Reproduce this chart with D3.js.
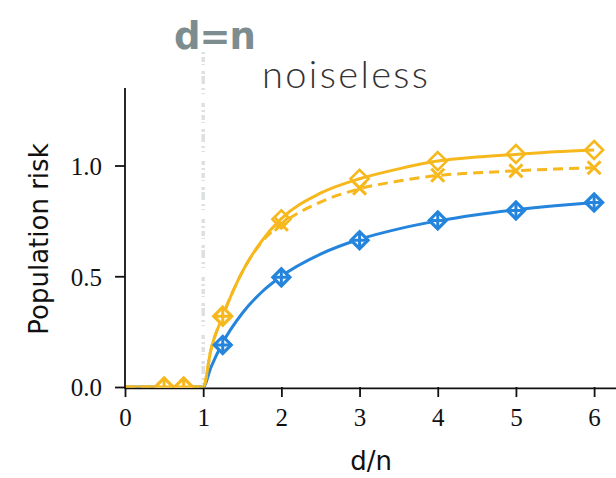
<!DOCTYPE html>
<html><head><meta charset="utf-8">
<script src="https://cdn.jsdelivr.net/npm/d3@7"></script>
<style>body{margin:0;background:#fff}svg{display:block}</style>
</head><body>
<svg id="c" width="616" height="478"></svg>
<script>
// ---- data ----
const xTicks = [0,1,2,3,4,5,6];
const yTicks = [0.0,0.5,1.0];
const yTickLabels = ["0.0","0.5","1.0"];

// curves (sampled estimates)
const curveX      = [0, 1, 1.1, 1.25, 1.5, 1.75, 2, 2.5, 3, 3.5, 4, 4.5, 5, 5.5, 6];
const blueCurve   = [0, 0, 0.09, 0.20, 0.333, 0.429, 0.50, 0.60, 0.667, 0.714, 0.75, 0.778, 0.80, 0.818, 0.833];
const yellowSolid = [0, 0, 0.17, 0.32, 0.52, 0.66, 0.76, 0.875, 0.94, 0.985, 1.02, 1.038, 1.05, 1.062, 1.07];
const yellowDash  = [0, 0, 0.17, 0.32, 0.52, 0.655, 0.735, 0.835, 0.895, 0.93, 0.955, 0.967, 0.976, 0.984, 0.99];

// markers
const blueMarkX   = [1.25, 2, 3, 4, 5, 6];
const blueMarkY   = [0.19, 0.495, 0.663, 0.752, 0.797, 0.833];
const yelPlusX    = [0.5, 0.75, 1.25];
const yelPlusY    = [0, 0, 0.32];
const yelDiamX    = [2, 3, 4, 5, 6];
const yelDiamY    = [0.757, 0.94, 1.02, 1.052, 1.07];
const yelCrossX   = [2, 3, 4, 5, 6];
const yelCrossY   = [0.735, 0.898, 0.956, 0.976, 0.99];

const YELLOW = "#f6b81c", BLUE = "#2585dc";

const svg = d3.select("#c");
const x = d3.scaleLinear().domain([0, 6.28]).range([125, 616]);
const y = d3.scaleLinear().domain([0, 1.35]).range([387, 88]);

// chalky d=n line
const chalk = svg.append("g");
chalk.append("line").attr("x1", x(1)).attr("x2", x(1)).attr("y1", 52).attr("y2", 392)
  .attr("stroke", "#a9b3b5").attr("stroke-width", 3.5).attr("opacity", 0.4)
  .attr("stroke-dasharray", "2 3 5 2 1 6 3 2 8 4 2 3 1 9 4 3");

svg.append("text").attr("x", 174).attr("y", 49).text("d=n")
  .attr("font-family", "DejaVu Sans").attr("font-weight", "bold").attr("font-size", 37)
  .attr("fill", "#7d8c8f").attr("letter-spacing", -1);

svg.append("text").attr("x", 262).attr("y", 88).text("noiseless")
  .attr("font-family", "'Lato Light', 'Lato Hairline', Lato").attr("font-weight", 200).attr("font-size", 38)
  .attr("fill", "#333").attr("textLength", 166).attr("lengthAdjust", "spacing");

// axes
const ax = svg.append("g").attr("transform", `translate(0,${y(0)})`)
  .call(d3.axisBottom(x).tickValues(xTicks).tickFormat(d3.format("d")).tickSize(10).tickPadding(6));
const ay = svg.append("g").attr("transform", `translate(${x(0)},0)`)
  .call(d3.axisLeft(y).tickValues(yTicks).tickFormat((d,i)=>yTickLabels[i]).tickSize(10).tickPadding(13));
[ax, ay].forEach(a => {
  a.select(".domain").attr("stroke","#111").attr("stroke-width",1.8);
  a.selectAll(".tick line").attr("stroke","#111").attr("stroke-width",1.8);
  a.selectAll(".tick text").attr("font-family","Liberation Serif, DejaVu Serif, serif").attr("font-size",25).attr("fill","#111");
});
ax.select(".domain").attr("d", `M${x(0)},1.4H616`);
ay.select(".domain").attr("d", `M0,${y(0)+2}V${y(1.35)}`);
ax.selectAll(".tick text").attr("dy", "0.92em");
ay.selectAll(".tick text").attr("dy", "0.35em");

svg.append("defs").append("clipPath").attr("id", "clip")
  .append("rect").attr("x", x(0)+1).attr("y", y(1.35)).attr("width", 616 - x(0)).attr("height", y(0) - y(1.35) + 0.5);

const plot = svg.append("g").attr("clip-path", "url(#clip)");
const line = d3.line().x(d => x(d[0])).y(d => y(d[1])).curve(d3.curveMonotoneX);

plot.append("path").datum(curveX.map((v,i)=>[v, blueCurve[i]])).attr("d", line)
  .attr("fill","none").attr("stroke",BLUE).attr("stroke-width",3);
plot.append("path").datum(curveX.map((v,i)=>[v, yellowDash[i]])).attr("d", line)
  .attr("fill","none").attr("stroke",YELLOW).attr("stroke-width",3).attr("stroke-dasharray","10 6");
plot.append("path").datum(curveX.map((v,i)=>[v, yellowSolid[i]])).attr("d", line)
  .attr("fill","none").attr("stroke",YELLOW).attr("stroke-width",3);

function diamondPath(r){ return `M0,${-r}L${r},0L0,${r}L${-r},0Z`; }
function plusPath(r){ return `M${-r},0L${r},0M0,${-r}L0,${r}`; }

function diamPlus(g, xs, ys, color, r){
  const m = g.selectAll(null).data(xs.map((v,i)=>[v, ys[i]])).enter().append("g")
    .attr("transform", d => `translate(${x(d[0])},${y(d[1])})`);
  m.append("path").attr("d", diamondPath(r)).attr("fill","#fff").attr("stroke",color).attr("stroke-width",3.2);
  m.append("path").attr("d", plusPath(r*0.8)).attr("stroke",color).attr("stroke-width",3);
}
// crosses
plot.selectAll(null).data(yelCrossX.map((v,i)=>[v, yelCrossY[i]])).enter().append("path")
  .attr("transform", d => `translate(${x(d[0])},${y(d[1])})`)
  .attr("d", "M-6.5,-6.5L6.5,6.5M-6.5,6.5L6.5,-6.5").attr("stroke",YELLOW).attr("stroke-width",3).attr("fill","none");
// diamonds
plot.selectAll(null).data(yelDiamX.map((v,i)=>[v, yelDiamY[i]])).enter().append("path")
  .attr("transform", d => `translate(${x(d[0])},${y(d[1])})`)
  .attr("d", diamondPath(9)).attr("stroke",YELLOW).attr("stroke-width",2.6).attr("fill","none");
diamPlus(plot, yelPlusX, yelPlusY, YELLOW, 9);
diamPlus(plot, blueMarkX, blueMarkY, BLUE, 8.5);

svg.append("text").attr("x", 371).attr("y", 470).attr("text-anchor","middle").text("d/n")
  .attr("font-family","DejaVu Sans").attr("font-size",26).attr("fill","#111");
svg.append("text").attr("transform","translate(48,239) rotate(-90)").attr("text-anchor","middle")
  .text("Population risk").attr("font-family","DejaVu Sans").attr("font-size",26).attr("fill","#111");
</script>
</body></html>
